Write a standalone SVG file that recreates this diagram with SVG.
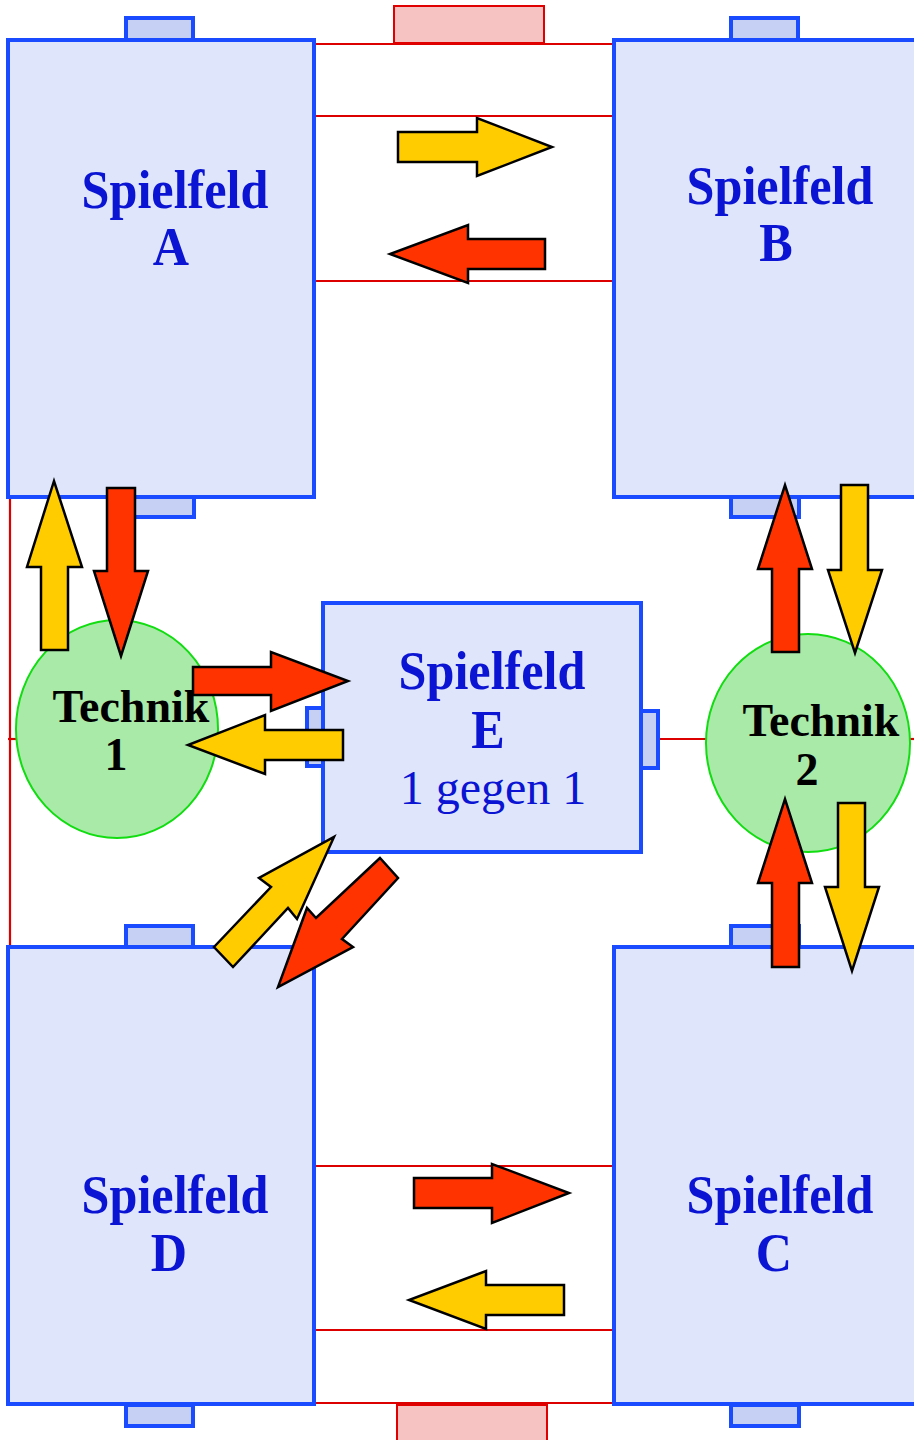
<svg xmlns="http://www.w3.org/2000/svg" width="914" height="1440" viewBox="0 0 914 1440">
<style>
.field{fill:#dfe6fc;stroke:#1a4bff;stroke-width:4}
.tab{fill:#c6d0f4;stroke:#1a4bff;stroke-width:4}
.mark{fill:#f6c2c2;stroke:#e00000;stroke-width:2}
.line{stroke:#dd0000;stroke-width:2.2;fill:none}
.tech{fill:#a9eaa9;stroke:#11dd11;stroke-width:2}
.ar-y{fill:#ffcc00;stroke:#000;stroke-width:2.5;stroke-linejoin:miter}
.ar-r{fill:#ff3300;stroke:#000;stroke-width:2.5;stroke-linejoin:miter}
.lbl{font-family:"Liberation Serif","Times New Roman",serif;font-weight:bold;font-size:54px;fill:#0a14d2;text-anchor:middle}
.lbl2{font-family:"Liberation Serif","Times New Roman",serif;font-size:48px;fill:#0a14d2;text-anchor:middle}
.tl{font-family:"Liberation Serif","Times New Roman",serif;font-weight:bold;font-size:46px;fill:#000;text-anchor:middle}
</style>
<rect width="914" height="1440" fill="#fff"/>
<g id="connectors">
<line class="line" x1="314" y1="44" x2="614" y2="44"/>
<line class="line" x1="314" y1="116" x2="614" y2="116"/>
<line class="line" x1="314" y1="281" x2="614" y2="281"/>
<line class="line" x1="314" y1="1166" x2="614" y2="1166"/>
<line class="line" x1="314" y1="1330" x2="614" y2="1330"/>
<line class="line" x1="314" y1="1403" x2="614" y2="1403"/>
<line class="line" x1="10" y1="497" x2="10" y2="947"/>
<line class="line" x1="8" y1="739" x2="16" y2="739"/>
<line class="line" x1="659" y1="739" x2="706" y2="739"/>
<line class="line" x1="909" y1="739" x2="914" y2="739"/>
</g>
<g id="mark-top"><rect class="mark" x="394" y="6" width="150" height="37"/></g>
<g id="mark-bottom"><rect class="mark" x="397" y="1405" width="150" height="40"/></g>
<g id="field-a">
<rect class="tab" x="126" y="18" width="67" height="22"/>
<rect class="tab" x="133" y="497" width="61" height="20"/>
<rect class="field" x="8" y="40" width="306" height="457"/>
<text class="lbl" transform="translate(175,208) scale(0.93,1)">Spielfeld</text>
<text class="lbl" transform="translate(171,265) scale(0.93,1)">A</text>
</g>
<g id="field-b">
<rect class="tab" x="731" y="18" width="67" height="22"/>
<rect class="tab" x="731" y="497" width="68" height="20"/>
<rect class="field" x="614" y="40" width="310" height="457"/>
<text class="lbl" transform="translate(780,204) scale(0.93,1)">Spielfeld</text>
<text class="lbl" transform="translate(776,261) scale(0.93,1)">B</text>
</g>
<g id="field-d">
<rect class="tab" x="126" y="926" width="67" height="21"/>
<rect class="tab" x="126" y="1405" width="67" height="21"/>
<rect class="field" x="8" y="947" width="306" height="457"/>
<text class="lbl" transform="translate(175,1213) scale(0.93,1)">Spielfeld</text>
<text class="lbl" transform="translate(169,1271) scale(0.93,1)">D</text>
</g>
<g id="field-c">
<rect class="tab" x="731" y="926" width="68" height="21"/>
<rect class="tab" x="731" y="1405" width="68" height="21"/>
<rect class="field" x="614" y="947" width="310" height="457"/>
<text class="lbl" transform="translate(780,1213) scale(0.93,1)">Spielfeld</text>
<text class="lbl" transform="translate(774,1271) scale(0.93,1)">C</text>
</g>
<g id="field-e">
<rect class="tab" x="307" y="708" width="16" height="58"/>
<rect class="tab" x="641" y="711" width="17" height="57"/>
<rect class="field" x="323" y="603" width="318" height="249"/>
<text class="lbl" transform="translate(492,689) scale(0.93,1)">Spielfeld</text>
<text class="lbl" transform="translate(488,748) scale(0.93,1)">E</text>
<text class="lbl2" x="493" y="804">1 gegen 1</text>
</g>
<g id="technik-1">
<ellipse class="tech" cx="117" cy="729" rx="101" ry="109"/>
</g>
<g id="technik-2">
<ellipse class="tech" cx="808" cy="743" rx="102" ry="109"/>
</g>
<g id="arrows">
<polygon class="ar-y" points="398,132 477,132 477,118 552,147 477,176 477,162 398,162"/>
<polygon class="ar-r" points="545,239 468,239 468,225 390,254 468,283 468,269 545,269"/>
<polygon class="ar-r" points="414,1178 492,1178 492,1164 569,1193 492,1223 492,1208 414,1208"/>
<polygon class="ar-y" points="564,1285 486,1285 486,1271 409,1300 486,1329 486,1315 564,1315"/>
<polygon class="ar-y" points="41,650 41,567 27,567 54,481 82,567 68,567 68,650"/>
<polygon class="ar-r" points="107,488 135,488 135,571 148,571 121,656 94,571 107,571"/>
<polygon class="ar-r" points="193,667 271,667 271,652 348,681 271,711 271,695 193,695"/>
<polygon class="ar-y" points="343,730 265,730 265,715 188,745 265,774 265,760 343,760"/>
<polygon class="ar-r" points="772,652 772,569 758,569 785,485 812,569 799,569 799,652"/>
<polygon class="ar-y" points="841,485 868,485 868,570 882,570 855,653 828,570 841,570"/>
<polygon class="ar-r" points="772,967 772,883 758,883 785,799 812,883 799,883 799,967"/>
<polygon class="ar-y" points="838,803 865,803 865,887 879,887 852,971 825,887 838,887"/>
<polygon class="ar-y" points="214,947 271,887 259,878 334,837 297,919 288,908 233,967"/>
<polygon class="ar-r" points="380,858 316,918 307,908 278,987 353,947 342,939 398,878"/>
</g>
<g id="technik-labels">
<text class="tl" x="131" y="722">Technik</text>
<text class="tl" x="116" y="770">1</text>
<text class="tl" x="821" y="736">Technik</text>
<text class="tl" x="807" y="785">2</text>
</g>
</svg>
